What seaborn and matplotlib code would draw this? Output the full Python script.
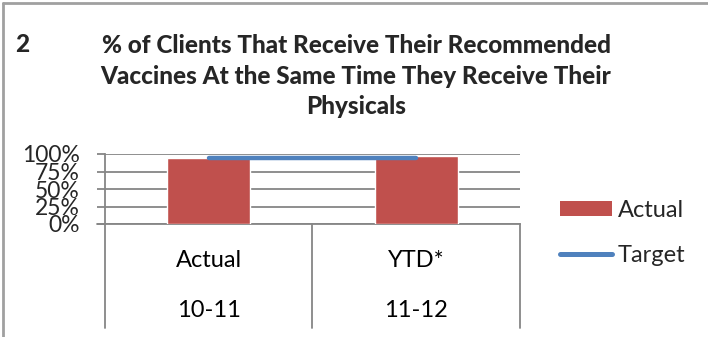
import matplotlib
matplotlib.use("Agg")
import matplotlib.pyplot as plt
import matplotlib.transforms as mtransforms
from matplotlib.patches import Patch
from matplotlib.lines import Line2D
import seaborn as sns
import pandas as pd

# ---- data ----
categories = ["Actual", "YTD*"]
periods = ["10-11", "11-12"]
actual_values = [0.94, 0.97]
target_values = [0.95, 0.95]
y_ticks = [0, 0.25, 0.5, 0.75, 1.0]
y_tick_labels = ["0%", "25%", "50%", "75%", "100%"]
title_number = "2"
title_text = ("% of Clients That Receive Their Recommended\n"
              "Vaccines At the Same Time They Receive Their\n"
              "Physicals")
legend_labels = ["Actual", "Target"]

BAR_COLOR = "#C0504D"
LINE_COLOR = "#4F81BD"
GRID_COLOR = "#868686"
FONT = "Lato"

sns.set_theme(style="white")
plt.rcParams["font.family"] = [FONT, "DejaVu Sans"]

df = pd.DataFrame({"category": categories, "actual": actual_values,
                   "target": target_values})

fig = plt.figure(figsize=(7.08, 3.37), dpi=100)
ax = fig.add_axes([105 / 708, 1 - 224 / 337, 415 / 708, 70 / 337])

sns.barplot(data=df, x="category", y="actual", color=BAR_COLOR,
            width=0.4, saturation=1, ax=ax, zorder=3)
ax.plot(range(len(categories)), df["target"], color=LINE_COLOR,
        linewidth=3.2, solid_capstyle="round", zorder=4)

ax.set_xlim(-0.5, len(categories) - 0.5)
ax.set_ylim(0, 1.0)
ax.set_yticks(y_ticks)
ax.set_yticklabels(y_tick_labels, fontsize=16.5)
ax.yaxis.grid(True, color=GRID_COLOR, linewidth=1.3)
ax.set_axisbelow(True)
ax.tick_params(axis="y", length=6, width=1.3, color=GRID_COLOR,
               direction="out", left=True, pad=12)
ax.set_xticks([])
ax.set_xlabel("")
ax.set_ylabel("")
for s in ["top", "right"]:
    ax.spines[s].set_visible(False)
for s in ["left", "bottom"]:
    ax.spines[s].set_color(GRID_COLOR)
    ax.spines[s].set_linewidth(1.3)

# category labels and dividers below the axis
trans = mtransforms.blended_transform_factory(ax.transData, ax.transAxes)
for i, (c, p) in enumerate(zip(categories, periods)):
    ax.text(i, -0.52, c, transform=trans, ha="center", va="center",
            fontsize=17, color="black")
    ax.text(i, -1.24, p, transform=trans, ha="center", va="center",
            fontsize=17, color="black")
for xb in [-0.5, 0.5, 1.5]:
    ax.plot([xb, xb], [0, -1.48], transform=trans, color=GRID_COLOR,
            linewidth=1.3, clip_on=False)
ax.plot([-0.5 - 0.04, -0.5], [0, 0], transform=trans, color=GRID_COLOR,
        linewidth=1.3, clip_on=False)

# title
fig.text(22 / 708, 1 - 44 / 337, title_number, fontsize=17.5,
         fontweight="black", ha="center", va="center")
fig.text(356 / 708, 1 - 76 / 337, title_text, fontsize=17.5,
         fontweight="black", ha="center", va="center", linespacing=1.42)

# legend
handles = [Patch(facecolor=BAR_COLOR, edgecolor="none"),
           Line2D([0], [0], color=LINE_COLOR, linewidth=3.6,
                  solid_capstyle="round")]
fig.legend(handles, legend_labels, loc="center left",
           bbox_to_anchor=(560 / 708, 1 - 233 / 337), frameon=False,
           fontsize=17, handlelength=2.2, handleheight=0.64,
           handletextpad=0.25, labelspacing=1.05, borderaxespad=0,
           borderpad=0)

# outer border (top and left)
fig.add_artist(Line2D([3 / 708, 1], [1 - 3 / 337, 1 - 3 / 337],
                      color="#A0A0A0", linewidth=2, transform=fig.transFigure))
fig.add_artist(Line2D([3 / 708, 3 / 708], [0, 1 - 3 / 337],
                      color="#A0A0A0", linewidth=2, transform=fig.transFigure))

fig.savefig("out.png", dpi=100, facecolor="white")
